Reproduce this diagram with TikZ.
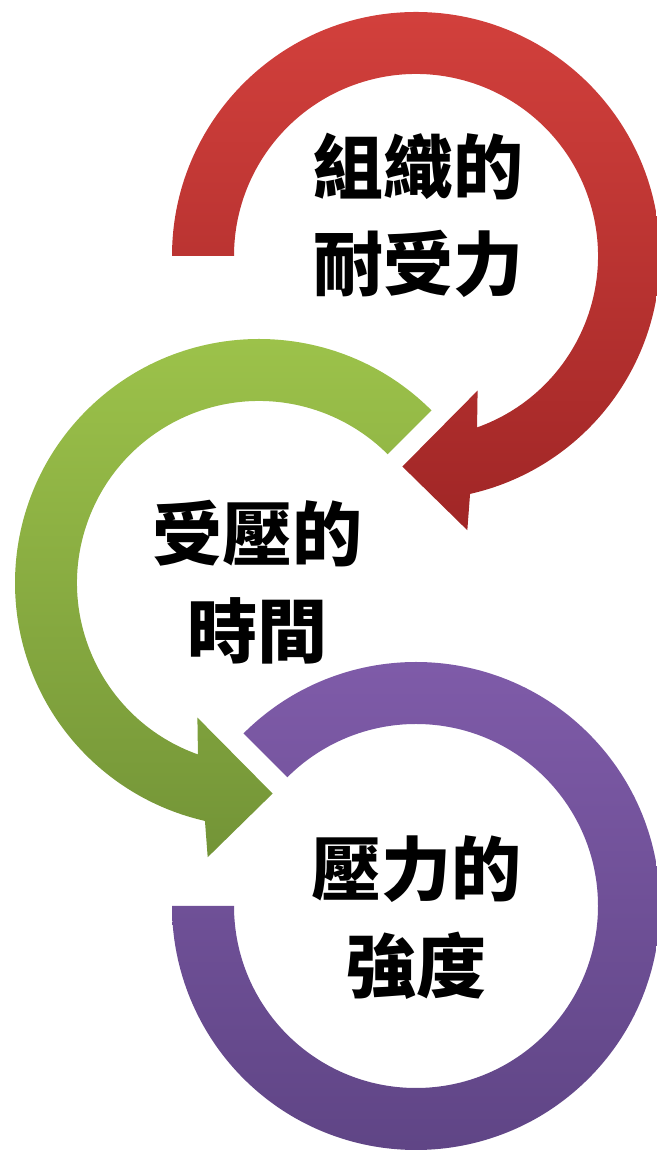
\documentclass[tikz,border=0pt]{standalone}
\usepackage{fontspec}
\newfontfamily\cjk{Noto Sans CJK TC}
\definecolor{redtop}{RGB}{210,64,60}
\definecolor{redbot}{RGB}{160,38,38}
\definecolor{greentop}{RGB}{158,196,75}
\definecolor{greenbot}{RGB}{115,148,55}
\definecolor{purptop}{RGB}{128,92,170}
\definecolor{purpbot}{RGB}{94,68,132}
\begin{document}
\begin{tikzpicture}[x=1pt,y=1pt,
  txt/.style={font=\cjk\bfseries\fontsize{70}{97}\selectfont, align=center, inner sep=0pt, text=black}]
\useasboundingbox (0,0) rectangle (656,1153);
% red arrow
\begin{scope}[shift={(416,897)}]
\shade[top color=redtop, bottom color=redbot]
  (180:244) arc[start angle=180, end angle=-77.2, radius=244]
  -- (-79.4:279) -- (-93.7:211) -- (-65.4:148) -- (-70.4:182)
  arc[start angle=-70.4, end angle=180, radius=182] -- cycle;
\end{scope}
% green arrow
\begin{scope}[shift={(259,570)}]
\shade[top color=greentop, bottom color=greenbot]
  (45:244) arc[start angle=45, end angle=257.2, radius=244]
  -- (259.4:279) -- (273.7:211) -- (245.4:148) -- (250.4:182)
  arc[start angle=250.4, end angle=45, radius=182] -- cycle;
\end{scope}
% purple ring
\begin{scope}[shift={(416,247)}]
\shade[top color=purptop, bottom color=purpbot]
  (135:244) arc[start angle=135, end angle=-180, radius=244]
  -- (-180:182) arc[start angle=-180, end angle=135, radius=182] -- cycle;
\end{scope}
\node[txt] (t1) at (418,938) {組織的\\耐受力};
\node[txt] (t2) at (257,571) {受壓的\\時間};
\node[txt] (t3) at (416,235) {壓力的\\強度};
\end{tikzpicture}
\end{document}
